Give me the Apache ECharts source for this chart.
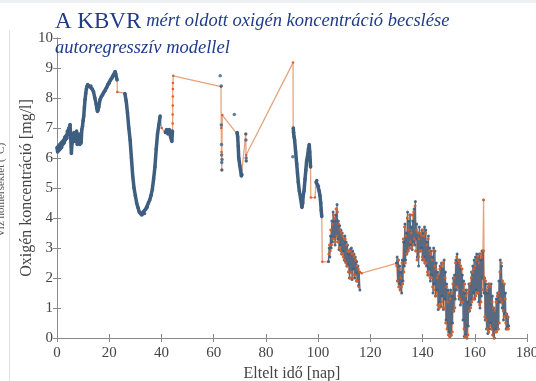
<!DOCTYPE html>
<html>
<head>
<meta charset="utf-8">
<script src="https://cdn.jsdelivr.net/npm/echarts@6/dist/echarts.min.js"></script>
<style>
html,body{margin:0;padding:0;background:#fff}
#chart{width:536px;height:381px}
</style>
</head>
<body>
<div id="chart"></div>
<script>
// ---- Measured dissolved oxygen [mg/l] against elapsed time [day] ----
const measuredEarly = [[0,6.35],[0.25,6.2],[0.5,6.4],[0.75,6.25],[1,6.45],[1.25,6.3],[1.5,6.5],[1.75,6.35],[2,6.55],[2.25,6.45],[2.5,6.6],[2.75,6.5],[3,6.7],[3.25,6.6],[3.5,6.75],[3.75,6.65],[4,6.9],[4.25,6.8],[4.5,7.0],[4.75,6.85],[5,7.12],[5.25,6.7],[5.5,6.15],[5.75,6.5],[6,6.75],[6.25,6.6],[6.5,6.85],[6.75,6.55],[7,6.8],[7.25,6.6],[7.5,6.9],[7.75,6.45],[8,6.75],[8.25,6.5],[8.5,6.8],[8.75,6.45],[9,6.7],[9.25,6.5],[9.5,6.95],[9.75,7.05],[10,7.25],[10.25,7.4],[10.5,7.7],[10.75,7.95],[11,8.15],[11.25,8.3],[11.5,8.4],[11.75,8.45],[12,8.42],[12.5,8.38],[13,8.4],[13.5,8.3],[14,8.2],[14.5,8.0],[15,7.8],[15.25,7.65],[15.5,7.55],[15.75,7.6],[16,7.7],[16.5,7.95],[17,8.05],[17.5,8.1],[18,8.2],[18.5,8.25],[19,8.35],[19.5,8.45],[20,8.5],[20.5,8.6],[21,8.65],[21.5,8.75],[22,8.8],[22.25,8.88],[22.5,8.8],[22.75,8.7],[23,8.6]];
const measuredDip = [[26,8.15],[26.5,7.9],[27,7.5],[27.5,7.0],[28,6.6],[28.5,6.0],[29,5.4],[29.5,5.0],[30,4.75],[30.5,4.5],[31,4.35],[31.5,4.2],[32,4.15],[32.5,4.1],[33,4.2],[33.5,4.15],[34,4.3],[34.5,4.35],[35,4.5],[35.5,4.6],[36,4.75],[36.5,4.95],[37,5.3],[37.5,5.7],[38,6.3],[38.5,6.8],[39,7.1],[39.5,7.4]];
const measuredPlateau = [[41.5,6.85],[42,6.95],[42.5,6.8],[43,6.95],[43.5,6.7],[44,6.55],[44.2,6.9]];
const measuredDrop70 = [[69,6.85],[69.2,6.7],[69.4,6.4],[69.6,6.0],[69.8,5.9],[70,5.75],[70.3,5.6],[70.6,5.4],[70.8,5.45]];
const measuredLate90 = [[90.5,7.0],[90.6,6.85],[90.8,6.7],[91,6.6],[91.4,6.2],[91.8,5.8],[92.1,5.5],[92.4,5.2],[92.8,4.9],[93.3,4.65],[93.8,4.35],[94.1,4.5],[94.3,4.75],[94.6,4.9],[95,5.3],[95.3,5.6],[95.6,5.9],[96,6.1],[96.3,6.3],[96.6,6.45],[96.8,6.2],[97,5.9],[97.1,5.7]];
const measuredLate99 = [[99.2,5.2],[99.5,5.25],[99.8,5.1],[100.1,5.05],[100.4,4.9],[100.7,4.75],[101,4.5],[101.2,4.25],[101.4,4.05]];
// isolated readings around the sampling breaks
const measuredSparse = [[62.5,8.74],[62.9,8.4],[62.95,7.1],[63,6.45],[63.05,6.1],[63.1,5.85],[63.15,5.6],[63.2,5.95],[67.9,7.45],[72.3,6.8],[72.35,6.6],[72.45,6.0],[72.5,5.9],[90.3,6.04]];

// dense sections, sampled every quarter day
const quarterDay = 0.25;
const noisyAStart = 104;
const measuredNoisyA = [2.55,3.0,2.7,3.4, 3.0,3.9,3.2,4.2, 3.35,3.9,3.1,4.1, 3.4,4.45,3.3,3.9, 2.95,3.75,3.1,3.6, 2.8,3.5,2.9,3.3, 2.6,3.4,2.55,3.2, 2.4,3.1,2.45,2.8, 2.0,2.95,2.2,3.0, 1.95,2.9,2.3,2.8, 2.0,2.7,2.15,2.55, 1.9,2.4,1.75,2.2, 1.6];
const noisyBStart = 130;
const measuredNoisyB = [
  2.5,2.7,1.9,2.6, 1.8,2.4,1.6,2.2, 1.5,2.6,1.9,3.2, 2.4,3.8,2.6,3.5, 2.8,4.2,2.9,3.9,
  3.0,4.1,3.1,3.7, 2.95,3.9,3.2,4.3, 3.1,4.55,3.3,3.8, 2.7,3.5,2.4,3.7, 2.9,3.4,3.0,3.6,
  2.6,3.5,2.7,3.7, 2.5,3.6,2.4,3.2, 2.1,3.4,2.3,3.0, 1.9,2.9,2.1,2.7, 1.5,3.0,1.8,2.9,
  1.4,2.5,1.6,2.2, 0.95,2.1,1.2,2.4, 1.05,2.5,1.4,2.3, 0.95,2.6,1.3,2.2, 0.6,1.8,0.3,1.6,
  0.2,1.5,0.05,1.6, 0.1,1.4,0.5,2.0, 0.9,2.1,1.3,2.6, 1.6,2.8,1.7,2.5, 1.3,2.6,1.1,2.3,
  1.2,2.1,0.6,1.9, 0.05,1.5,0.1,1.6, 0.0,1.2,0.4,1.8, 0.9,1.8,1.1,2.2, 1.3,2.4,1.5,2.6,
  1.3,2.7,1.6,2.8, 1.5,2.7,1.2,2.8, 1.0,2.6,1.4,2.9, 2.0,2.9,1.5,2.0, 0.6,1.8,0.3,1.5,
  0.15,1.8,0.3,1.7, 0.5,1.8,0.3,1.4, 0.1,1.0,0.0,0.9, 0.3,1.3,0.3,1.5, 0.3,1.9,1.2,2.6,
  1.2,2.4,1.0,1.8, 0.6,1.8,0.8,1.5, 0.3,0.8,0.35,0.7, 0.4];

// ---- Autoregressive model estimate ----
const estimateBridge1 = [[23.1,8.2],[26,8.16]];
const estimateBridge2 = [[40.1,7.0],[41.4,6.83]];
const estimateBridge3 = [[44.3,7.15],[44.31,7.45],[44.32,7.75],[44.34,8.05],[44.36,8.3],[44.38,8.5],[44.5,8.74],[62.8,8.38],[62.9,7.0],[63.0,6.2],[63.1,5.6],[63.3,7.43],[68.8,6.82]];
const estimateBridge4 = [[72.3,6.8],[72.4,5.9],[72.45,6.1],[90.4,9.18],[90.45,7.0]];
const estimateBridge5 = [[97.2,4.68],[98.8,4.68]];
const estimateBridge6 = [[101.6,2.54],[103.9,2.54]];
const estimateBridge7 = [[116.7,2.16],[130.0,2.49]];
const estimateNoisyAStart = 104.125;
const estimateNoisyA = [2.8,3.1,2.9,3.6, 3.1,3.8,3.3,4.1, 3.3,4.0,3.2,4.3, 3.4,4.2,3.2,3.8, 3.0,3.6,2.9,3.5, 2.8,3.4,2.7,3.3, 2.6,3.3,2.5,3.1, 2.4,2.9,2.2,2.9, 2.0,2.9,2.2,2.8, 2.0,2.8,2.1,2.7, 2.1,2.6,1.9,2.4, 1.9,2.3,1.7,2.2];
const estimateNoisyBStart = 130.125;
const estimateNoisyB = [
  2.4,1.9,2.6,1.7, 2.3,1.6,2.0,1.7, 2.5,1.8,3.3,2.2, 3.7,2.5,3.4,2.8, 4.0,2.9,3.6,3.0,
  4.1,3.2,3.5,3.0, 4.1,3.1,4.2,3.3, 4.4,2.9,3.6,2.6, 3.5,2.7,3.3,2.9, 3.5,2.9,3.4,2.7,
  3.6,2.6,3.4,2.5, 3.5,2.5,3.1,2.2, 3.3,2.1,2.9,2.0, 2.8,2.0,2.6,1.7, 2.9,1.6,2.4,1.4,
  2.3,1.5,2.0,1.1, 2.1,1.0,2.3,1.1, 2.4,1.2,2.5,1.0, 2.5,1.0,2.0,0.5, 1.7,0.3,1.2,0.1,
  1.5,0.05,1.3,0.1, 1.5,0.2,1.8,0.9, 2.0,1.0,2.5,1.7, 2.7,1.7,2.6,1.4, 2.5,1.3,2.4,1.2,
  2.3,1.2,1.6,0.3, 1.8,0.05,1.4,0.0, 1.5,0.1,1.6,0.9, 1.8,1.0,2.0,1.2, 2.2,1.3,2.3,1.3,
  2.4,1.4,2.6,1.5, 2.7,1.5,2.5,1.1, 2.8,1.2,2.7,1.6, 2.9,4.6,2.0,0.7, 1.9,0.6,1.6,0.3,
  1.7,0.2,1.8,0.4, 1.7,0.3,1.2,0.1, 1.0,0.0,0.9,0.2, 1.2,0.2,1.4,0.3, 1.5,0.5,2.2,1.3,
  2.5,1.2,1.9,0.9, 1.8,0.7,1.3,0.5, 0.8,0.3,0.7,0.3];

// ---- Axis and text ----
const xTicks = {min: 0, max: 180, interval: 20};
const yTicks = {min: 0, max: 10, interval: 1};
const titleLine1Upright = 'A KBVR';
const titleLine1Italic = 'mért oldott oxigén koncentráció becslése';
const titleLine2Italic = 'autoregresszív modellel';
const xName = 'Eltelt idő [nap]';
const yName = 'Oxigén koncentráció [mg/l]';
const neighbourYName = 'Víz hőmérséklet (°C)';

function stepPairs(start, step, vals) {
  return vals.map((v, i) => [start + i * step, v]);
}

const gap = (d) => [d, null];

const measuredLine = [].concat(
  measuredEarly, [gap(24)], measuredDip, [gap(40.5)], measuredPlateau, [gap(50)],
  measuredDrop70, [gap(80)], measuredLate90, [gap(98)], measuredLate99
);
const estimateDenseA = stepPairs(estimateNoisyAStart, quarterDay, estimateNoisyA);
const estimateDenseB = stepPairs(estimateNoisyBStart, quarterDay, estimateNoisyB);
const measuredDense = [].concat(
  stepPairs(noisyAStart, quarterDay, measuredNoisyA),
  [gap(120)],
  stepPairs(noisyBStart, quarterDay, measuredNoisyB)
);
const estimatePath = [].concat(
  measuredEarly, estimateBridge1, measuredDip, estimateBridge2, measuredPlateau,
  estimateBridge3, measuredDrop70, estimateBridge4, measuredLate90, estimateBridge5,
  measuredLate99, estimateBridge6, estimateDenseA, estimateBridge7, estimateDenseB
);

const serif = '"Liberation Serif", "Times New Roman", serif';
const axisGrey = '#8a8a8a';
const labelGrey = '#444';
const blue = '#3e5f80';
const orange = '#d9622b';
const tan = '#e6a47e';
const navy = '#1f3c88';

const chart = echarts.init(document.getElementById('chart'), null, {renderer: 'canvas'});

const frameLine = {show: true, lineStyle: {color: axisGrey, width: 1}};
const innerTick = {inside: true, length: 4, lineStyle: {color: axisGrey}};

chart.setOption({
  animation: false,
  backgroundColor: '#fff',
  grid: {left: 57, right: 9, top: 38, bottom: 43, outerBoundsMode: 'none'},
  title: {
    left: 55, top: 8, padding: 0, z: 20,
    text: '{u|' + titleLine1Upright + '} {i|' + titleLine1Italic + '}\n{i|' + titleLine2Italic + '}',
    textStyle: {
      rich: {
        u: {fontFamily: serif, fontWeight: 'normal', fontSize: 23, color: navy, lineHeight: 27},
        i: {fontFamily: serif, fontWeight: 'normal', fontStyle: 'italic', fontSize: 18.5, color: navy, lineHeight: 27}
      }
    }
  },
  xAxis: [{
    type: 'value', min: xTicks.min, max: xTicks.max, interval: xTicks.interval,
    name: xName, nameLocation: 'middle', nameGap: 25,
    nameTextStyle: {fontFamily: serif, fontSize: 16, color: labelGrey},
    axisLine: frameLine, splitLine: {show: false}, axisTick: innerTick,
    axisLabel: {fontFamily: serif, fontSize: 15, color: labelGrey, margin: 8}
  }, {
    type: 'value', position: 'top', min: xTicks.min, max: xTicks.max, interval: xTicks.interval,
    axisLine: frameLine, splitLine: {show: false}, axisTick: innerTick,
    axisLabel: {show: false}
  }],
  yAxis: [{
    type: 'value', min: yTicks.min, max: yTicks.max, interval: yTicks.interval,
    name: yName, nameLocation: 'middle', nameGap: 22, nameMoveOverlap: false,
    nameTextStyle: {fontFamily: serif, fontSize: 16, color: labelGrey},
    axisLine: frameLine, splitLine: {show: false}, axisTick: innerTick,
    axisLabel: {fontFamily: serif, fontSize: 15, color: labelGrey, margin: 4}
  }, {
    type: 'value', position: 'right', min: yTicks.min, max: yTicks.max, interval: yTicks.interval,
    axisLine: frameLine, splitLine: {show: false}, axisTick: innerTick,
    axisLabel: {show: false}
  }],
  graphic: [
    {type: 'rect', shape: {x: 0, y: 0, width: 536, height: 3}, style: {fill: '#eef1f4'}, silent: true},
    {type: 'line', shape: {x1: 9.5, y1: 30, x2: 9.5, y2: 381}, style: {stroke: '#e2e2e2', lineWidth: 1}, silent: true},
    {type: 'text', x: 1, y: 190, rotation: Math.PI / 2, silent: true,
      style: {text: neighbourYName, font: '11px ' + serif, fill: '#555', align: 'center', verticalAlign: 'middle'}}
  ],
  series: [
    {
      name: 'becslés', type: 'line', data: estimatePath, z: 2,
      showSymbol: true, symbol: 'circle', symbolSize: 2.5,
      itemStyle: {color: orange},
      lineStyle: {color: tan, width: 1.3},
      emphasis: {disabled: true}, silent: true
    },
    {
      name: 'mért', type: 'line', data: measuredLine, z: 3,
      showSymbol: true, symbol: 'circle', symbolSize: 3.5,
      itemStyle: {color: blue}, lineStyle: {color: blue, width: 3.5},
      connectNulls: false, emphasis: {disabled: true}, silent: true
    },
    {
      name: 'mért', type: 'line', data: measuredDense, z: 3,
      showSymbol: true, symbol: 'circle', symbolSize: 3,
      itemStyle: {color: blue, opacity: 0.9}, lineStyle: {color: blue, width: 1.3, opacity: 0.85},
      connectNulls: false, emphasis: {disabled: true}, silent: true
    },
    {
      name: 'mért', type: 'scatter', data: measuredSparse, z: 3,
      symbolSize: 3.5, itemStyle: {color: blue},
      emphasis: {disabled: true}, silent: true
    },
    {
      name: 'becslés', type: 'scatter', data: [].concat(estimateDenseA, estimateDenseB), z: 4,
      symbolSize: 2.8, itemStyle: {color: orange, opacity: 0.85},
      emphasis: {disabled: true}, silent: true
    }
  ]
});
</script>
</body>
</html>
